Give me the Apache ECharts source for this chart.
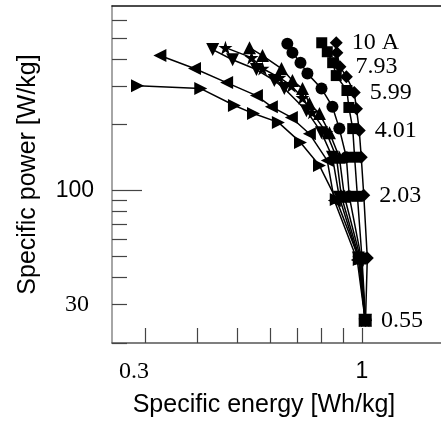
<!DOCTYPE html>
<html>
<head>
<meta charset="utf-8">
<script src="https://cdn.jsdelivr.net/npm/echarts@6/dist/echarts.min.js"></script>
<style>
  html, body { margin: 0; padding: 0; background: #fff; }
  #myChart { width: 441px; height: 421px; }
</style>
</head>
<body>
<div id="myChart"></div>
<script>
let myChart = echarts.init(document.getElementById('myChart'));

// tick positions and labels (real units)
const energyTicks = [0.3, 0.4, 0.5, 0.6, 0.7, 0.8, 0.9, 1];
const energyLabels = [0.3, 1];
const powerTicks = [20, 30, 40, 50, 60, 70, 80, 90, 200, 300, 400, 500, 600];
const powerMajor = [100];
const powerLabels = [30, 100];

// discharge current of each row (labelled on the right-most curve)
const currentLabels = ['10 A', '', '7.93', '', '5.99', '', '4.01', '', '2.03', '', '0.55'];

// specific energy [Wh/kg] / specific power [W/kg] per curve
const diamondE = [0.867, 0.87, 0.885, 0.917, 0.958, 0.97, 0.985, 0.996, 1.01, 1.03, 1.02];
const diamondP = [475, 428, 369, 332, 281, 237, 188, 142, 95, 49, 25.4];
const squareE = [0.80, 0.825, 0.85, 0.867, 0.92, 0.93, 0.95, 0.96, 0.975, 1.0, 1.02];
const squareP = [475, 432, 385, 336, 287, 240, 192, 142, 94, 49, 25.4];
const circleE = [0.661, 0.68, 0.711, 0.739, 0.799, 0.849, 0.882, 0.917, 0.932, 0.996, 1.018];
const circleP = [470, 428, 385, 343, 293, 242, 192, 142, 94, 49, 25.4];
const triUpE = [0.536, 0.576, 0.64, 0.68, 0.719, 0.747, 0.79, 0.835, 0.882, 0.907, 0.991, 1.018];
const triUpP = [451, 415, 362, 319, 293, 250, 225, 184, 142, 94, 49, 25.4];
const starE = [0.469, 0.542, 0.576, 0.633, 0.676, 0.719, 0.759, 0.821, 0.868, 0.892, 0.985, 1.018];
const starP = [451, 406, 362, 329, 302, 266, 228, 184, 142, 94, 49, 25.4];
const triDownE = [0.437, 0.488, 0.557, 0.615, 0.65, 0.735, 0.799, 0.849, 0.882, 0.98, 1.018];
const triDownP = [442, 397, 358, 319, 293, 232, 184, 142, 93, 49, 25.4];
const triLeftE = [0.326, 0.395, 0.472, 0.557, 0.605, 0.676, 0.747, 0.825, 0.858, 0.974, 1.018];
const triLeftP = [415, 362, 312, 272, 242, 216, 182, 137, 90, 48, 25.4];
const triRightE = [0.288, 0.409, 0.493, 0.548, 0.629, 0.711, 0.79, 0.867, 0.985, 1.018];
const triRightP = [302, 293, 245, 225, 205, 166, 130, 91, 48.3, 25.4];

const lg = Math.log10;

function closest(list, v) {
  let best = list[0];
  list.forEach(function (c) {
    if (Math.abs(lg(c) - v) < Math.abs(lg(best) - v)) best = c;
  });
  return best;
}

function makeSeries(name, E, P, symbol, size, labels) {
  return {
    name: name,
    type: 'line',
    symbol: symbol,
    symbolSize: size,
    showAllSymbol: true,
    lineStyle: { color: '#000', width: 1.5 },
    itemStyle: { color: '#000' },
    data: E.map(function (e, i) {
      let item = { value: [lg(e), lg(P[i])] };
      if (labels && labels[i]) {
        item.label = {
          show: true,
          position: 'right',
          distance: 9,
          formatter: labels[i],
          fontFamily: 'Liberation Serif',
          fontSize: 24,
          color: '#000',
        };
      }
      return item;
    }),
  };
}

const tickStyle = { color: '#444', width: 1.2 };

let myChartOption = {
  animation: false,
  backgroundColor: '#fff',
  grid: {
    left: 112,
    right: 0,
    top: 6,
    bottom: 78,
    containLabel: false,
    outerBoundsMode: 'none',
  },
  xAxis: [
    {
      type: 'value',
      min: lg(0.25),
      max: lg(1.55),
      name: 'Specific energy [Wh/kg]',
      nameLocation: 'middle',
      nameGap: 50,
      nameTextStyle: {
        fontFamily: 'Liberation Sans',
        fontSize: 25,
        color: '#000',
        padding: [0, 25, 0, 0],
      },
      axisLine: { onZero: false, lineStyle: { color: '#555', width: 1.5 } },
      axisTick: {
        inside: true,
        length: 15,
        lineStyle: tickStyle,
        customValues: energyTicks.map(lg),
      },
      axisLabel: {
        margin: 17,
        customValues: energyLabels.map(lg),
        formatter: function (v) {
          let c = closest(energyLabels, v);
          return c === 1 ? '{sans|1}' : '{serif|' + c + '}';
        },
        rich: {
          sans: { fontFamily: 'Liberation Sans', fontSize: 23, color: '#000' },
          serif: { fontFamily: 'Liberation Serif', fontSize: 24, color: '#000', padding: [0, 22, 0, 0] },
        },
      },
      splitLine: { show: false },
    },
    {
      type: 'value',
      position: 'top',
      min: lg(0.25),
      max: lg(1.55),
      axisLine: { show: true, onZero: false, lineStyle: { color: '#111', width: 1.5 } },
      axisTick: { show: false },
      axisLabel: { show: false },
      splitLine: { show: false },
    },
  ],
  yAxis: [
    {
      type: 'value',
      position: 'left',
      min: lg(20),
      max: lg(700),
      name: 'Specific power [W/kg]',
      nameLocation: 'middle',
      nameGap: 71,
      nameTextStyle: {
        fontFamily: 'Liberation Sans',
        fontSize: 25,
        color: '#000',
      },
      axisLine: { show: true, onZero: false, lineStyle: { color: '#888', width: 1.5 } },
      axisTick: {
        inside: true,
        length: 15,
        lineStyle: tickStyle,
        customValues: powerTicks.map(lg),
      },
      axisLabel: {
        margin: 18,
        customValues: powerLabels.map(lg),
        formatter: function (v) {
          let c = closest(powerLabels, v);
          return c === 100 ? '{sans|100}' : '{serif|' + c + '}';
        },
        rich: {
          sans: { fontFamily: 'Liberation Sans', fontSize: 23, color: '#000' },
          serif: { fontFamily: 'Liberation Serif', fontSize: 24, color: '#000', padding: [0, 5, 0, 0] },
        },
      },
      splitLine: { show: false },
    },
    {
      type: 'value',
      position: 'left',
      offset: 0,
      min: lg(20),
      max: lg(700),
      axisLine: { show: false, onZero: false },
      axisTick: {
        inside: true,
        length: 30,
        lineStyle: tickStyle,
        customValues: powerMajor.map(lg),
      },
      axisLabel: { show: false },
      splitLine: { show: false },
    },
  ],
  series: [
    makeSeries('tri-right', triRightE, triRightP, 'path://M0,0L10,5L0,10Z', 13),
    makeSeries('tri-left', triLeftE, triLeftP, 'path://M10,0L10,10L0,5Z', 13),
    makeSeries('tri-down', triDownE, triDownP, 'path://M0,0L10,0L5,10Z', 13),
    makeSeries('star', starE, starP,
      'path://M5,0L6.2,3.6L10,3.6L6.9,5.9L8.1,9.5L5,7.3L1.9,9.5L3.1,5.9L0,3.6L3.8,3.6Z', 14),
    makeSeries('tri-up', triUpE, triUpP, 'triangle', 13),
    makeSeries('circle', circleE, circleP, 'circle', 12),
    makeSeries('square', squareE, squareP, 'rect', 11),
    makeSeries('diamond', diamondE, diamondP, 'diamond', 13, currentLabels),
  ],
};

myChart.setOption(myChartOption);
</script>
</body>
</html>
